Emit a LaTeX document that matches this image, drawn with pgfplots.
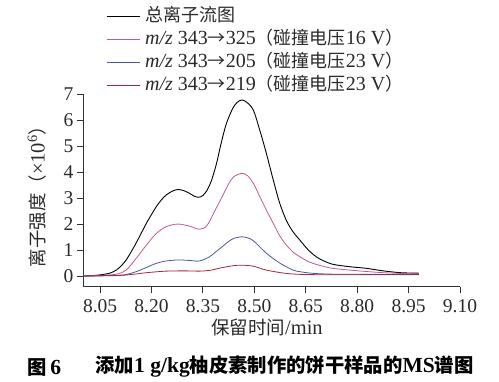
\documentclass[border=0pt]{standalone}
\usepackage{pgfplots}
\pgfplotsset{compat=1.18}
\usepackage{pgfplotstable}
\usepackage{fontspec}
\setmainfont{Liberation Serif}
\newfontfamily\cjk[Scale=0.9]{Noto Sans CJK SC}
\newcommand{\C}[1]{{\cjk #1}}
\definecolor{cPink}{HTML}{B85C96}
\definecolor{cBlue}{HTML}{4A5699}
\definecolor{cRed}{HTML}{A3253F}
\definecolor{axc}{HTML}{333333}
\definecolor{txc}{HTML}{2A2A2A}

\pgfplotstableread{
t v
8.000 0.00
8.030 0.02
8.058 0.06
8.080 0.12
8.097 0.23
8.112 0.40
8.126 0.62
8.140 0.92
8.155 1.27
8.170 1.65
8.185 2.03
8.200 2.37
8.214 2.67
8.228 2.92
8.243 3.12
8.260 3.26
8.277 3.33
8.295 3.28
8.311 3.18
8.325 3.07
8.338 3.03
8.350 3.10
8.362 3.30
8.375 3.68
8.389 4.30
8.403 5.10
8.418 5.85
8.437 6.45
8.450 6.68
8.463 6.77
8.478 6.68
8.497 6.38
8.516 5.60
8.535 4.72
8.555 3.70
8.574 2.80
8.594 2.12
8.613 1.70
8.633 1.38
8.659 0.98
8.688 0.68
8.727 0.46
8.778 0.36
8.826 0.30
8.876 0.20
8.927 0.13
8.980 0.11
}\tic

\pgfplotstableread{
t v
8.000 0.00
8.060 0.03
8.100 0.08
8.126 0.23
8.155 0.68
8.185 1.19
8.214 1.64
8.243 1.90
8.277 2.00
8.311 1.92
8.340 1.80
8.362 1.95
8.389 2.62
8.408 3.10
8.425 3.55
8.440 3.82
8.463 3.95
8.480 3.86
8.497 3.57
8.516 3.05
8.535 2.54
8.555 2.03
8.574 1.55
8.594 1.18
8.613 0.92
8.633 0.74
8.659 0.55
8.688 0.42
8.727 0.30
8.778 0.23
8.876 0.13
8.980 0.08
}\mzA

\pgfplotstableread{
t v
8.000 0.00
8.100 0.03
8.126 0.06
8.155 0.17
8.185 0.33
8.214 0.49
8.243 0.58
8.277 0.62
8.311 0.60
8.340 0.58
8.369 0.74
8.389 0.95
8.408 1.15
8.425 1.33
8.440 1.45
8.463 1.51
8.480 1.47
8.497 1.36
8.535 0.88
8.574 0.50
8.613 0.23
8.633 0.17
8.659 0.12
8.690 0.09
8.750 0.07
8.980 0.06
}\mzB

\pgfplotstableread{
t v
8.000 0.00
8.100 0.02
8.155 0.08
8.185 0.13
8.243 0.19
8.300 0.20
8.340 0.19
8.370 0.22
8.408 0.33
8.440 0.40
8.463 0.42
8.497 0.38
8.535 0.23
8.594 0.10
8.650 0.06
8.750 0.05
8.980 0.05
}\mzC

\begin{document}
\begin{tikzpicture}
\useasboundingbox (0bp,0bp) rectangle (499bp,382bp);
\begin{axis}[
  at={(83bp,95bp)}, anchor=south west,
  scale only axis, width=377bp, height=193bp,
  xmin=8.0, xmax=9.10, ymin=-0.42, ymax=7,
  axis x line*=bottom, axis y line*=left,
  x axis line style={-, axc, line width=1bp},
  y axis line style={-, axc, line width=1bp},
  xtick={8.05,8.20,8.35,8.50,8.65,8.80,8.95,9.10},
  ytick={0,1,2,3,4,5,6,7},
  tick align=outside, major tick length=6bp,
  tick style={axc, line width=1bp},
  xticklabel style={yshift=-3bp, /pgf/number format/.cd, fixed, fixed zerofill, precision=2, assume math mode=true},
  yticklabel style={/pgf/number format/assume math mode=true},
  ticklabel style={font=\fontsize{19.5bp}{21bp}\selectfont, text=txc},
  legend style={draw=none, fill=none, at={(axis description cs:0.061,1.456)}, anchor=north west,
    inner sep=0pt, row sep=3bp,
    nodes={inner sep=1bp, text height=14bp, text depth=4bp},
    font=\fontsize{20bp}{22bp}\selectfont, text=txc},
  legend cell align=left,
  legend image code/.code={\draw[#1] (0bp,0bp) -- (33bp,0bp); \path (37bp,0bp);},
]
\addplot[black, line width=0.9bp, smooth] table[x=t,y=v]{\tic};
\addlegendentry{\C{总离子流图}}
\addplot[cPink, line width=0.8bp, smooth] table[x=t,y=v]{\mzA};
\addlegendentry{\textit{m/z} 343\C{→}325\C{（碰撞电压}16 V\C{）}}
\addplot[cBlue, line width=0.8bp, smooth] table[x=t,y=v]{\mzB};
\addlegendentry{\textit{m/z} 343\C{→}205\C{（碰撞电压}23 V\C{）}}
\addplot[cRed, line width=0.8bp, smooth] table[x=t,y=v]{\mzC};
\addlegendentry{\textit{m/z} 343\C{→}219\C{（碰撞电压}23 V\C{）}}
\end{axis}
\node[rotate=90, text=txc, font=\fontsize{20.5bp}{22bp}\selectfont] at (37bp,190bp) {\C{离子强度（}×10\textsuperscript{6}\C{）}};
\node[text=txc, font=\fontsize{20.5bp}{22bp}\selectfont] at (267bp,55bp) {\C{保留时间}/min};
\node[anchor=west, font=\fontsize{21.5bp}{23bp}\selectfont\bfseries] at (24bp,15bp) {\C{图}\,6};
\node[anchor=west, font=\fontsize{21.5bp}{23bp}\selectfont\bfseries] at (92bp,15bp) {\C{添加}1 g/kg\C{柚皮素制作的饼干样品的}MS\C{谱图}};
\end{tikzpicture}
\end{document}
